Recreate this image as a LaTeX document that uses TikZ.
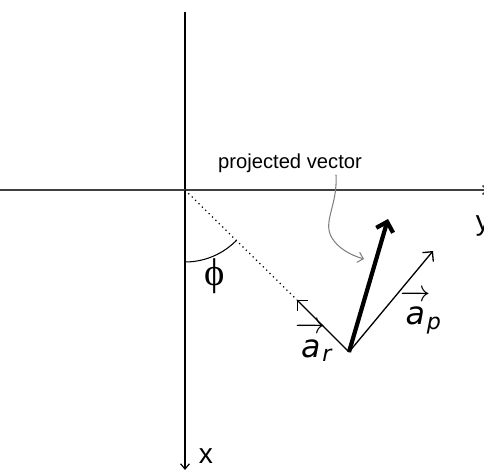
\documentclass[tikz,border=0pt]{standalone}
\usepackage{fontspec}
\setmainfont{Liberation Sans}
\newfontfamily\phifont{Liberation Serif}
\newfontfamily\vecfont{DejaVu Sans Oblique}
\usepackage{amsmath}
\usetikzlibrary{arrows.meta, positioning}
\newcommand{\veclab}[2]{$\overrightarrow{\text{\vecfont #1\rule{0pt}{0.75em}}}_{\mkern-3mu\text{\vecfont #2}}$}
\tikzset{
    axisline/.style={line width=0.7pt, -{Straight Barb[length=3pt, width=5pt]}},
    thinvec/.style={line width=0.75pt, -{Straight Barb[length=4pt, width=8pt]}},
    thickvec/.style={line width=2.4pt, -{Straight Barb[length=5pt, width=10pt]}},
    pointer/.style={draw=gray, line width=0.6pt, -{Straight Barb[length=3pt, width=6pt]}},
    axislabel/.style={font=\fontsize{16}{18}\selectfont, inner sep=0pt},
    veclabel/.style={font=\fontsize{18}{20}\selectfont, inner sep=0pt},
}

\begin{document}
\begin{tikzpicture}[x=0.02cm, y=-0.02cm]
    \useasboundingbox (0,0) rectangle (484,472);

    % Axes
    \coordinate (O) at (185,190);
    \coordinate (xtop) at (185,12);
    \coordinate (xend) at (185,470);
    \coordinate (yleft) at (0,190);
    \coordinate (yend) at (489,190);
    \draw[axisline] (xtop) -- (xend);
    \draw[axisline, draw=black!75, line width=0.9pt] (yleft) -- (yend);
    \node[axislabel] (xlabel) at (206,456) {x};
    \node[axislabel] (ylabel) at (483,226) {y};

    % Vectors
    \coordinate (base) at (349,352);
    \coordinate (artip) at (297,300);
    \coordinate (aptip) at (433,251);
    \coordinate (projtip) at (388,219);
    \draw[dotted, line width=0.7pt] (O) -- (artip);
    \draw[thinvec] (base) -- (artip);
    \draw[thinvec] (base) -- (aptip);
    \draw[thickvec] (base) -- (projtip);
    \node[veclabel] (arlabel) at (314,342) {\veclab{a}{r}};
    \node[veclabel] (aplabel) at (421,312) {\veclab{a}{p}};

    % Angle
    \draw[line width=0.6pt] (O) ++(90:72) arc (90:44.5:72);
    \node[font=\phifont\fontsize{22}{24}\selectfont, inner sep=0pt] (philabel) at (215,276) {ϕ};

    % Label and pointer
    \node[font=\fontsize{11.5}{13}\selectfont, inner sep=1pt] (projlabel) at (290,163) {projected vector};
    \coordinate (pointend) at (364,259);
    \draw[pointer] (projlabel.south east) ++(-28,0) coordinate (pointstart)
          .. controls (338,205) and (322,222) .. (332,238)
          .. controls (338,248) and (350,255) .. (pointend);
\end{tikzpicture}
\end{document}
